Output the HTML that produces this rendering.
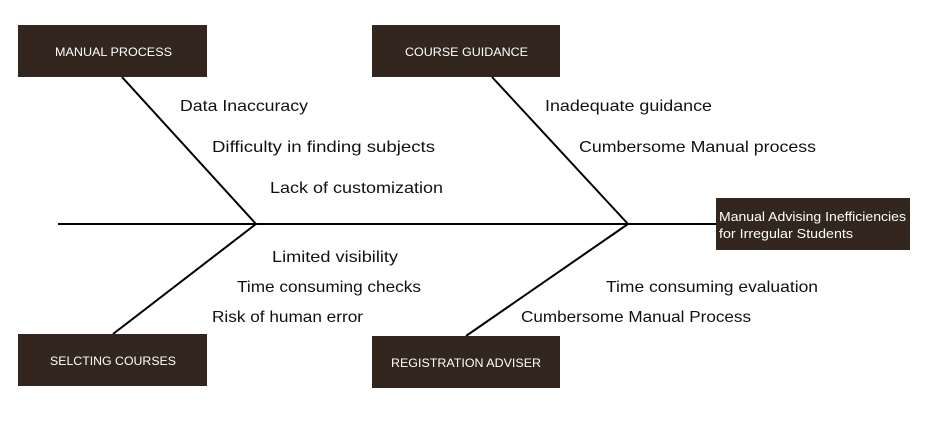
<!DOCTYPE html>
<html><head><style>
body{margin:0;background:#fff;}
svg{display:block;font-family:"Liberation Sans",sans-serif;}
.b{fill:#32261f;}
.t{font-size:16px;fill:#111;}
.w{font-size:12px;fill:#fff;}
.e{font-size:13px;fill:#fff;}
</style></head><body>
<svg width="925" height="437" viewBox="0 0 925 437">
<g stroke="#000" stroke-width="2" fill="none">
<line x1="58" y1="224" x2="716" y2="224"/>
<line x1="122" y1="77" x2="256" y2="224"/>
<line x1="492" y1="77" x2="628" y2="224"/>
<line x1="256" y1="224" x2="113" y2="334"/>
<line x1="628" y1="224" x2="466" y2="336"/>
</g>
<rect class="b" x="18" y="25" width="189" height="52"/>
<rect class="b" x="372" y="25" width="188" height="52"/>
<rect class="b" x="18" y="334" width="189" height="52"/>
<rect class="b" x="372" y="336" width="188" height="52"/>
<rect class="b" x="716" y="198" width="194" height="52"/>
<text class="w" x="55" y="56" textLength="117" lengthAdjust="spacingAndGlyphs">MANUAL PROCESS</text>
<text class="w" x="405" y="56" textLength="123" lengthAdjust="spacingAndGlyphs">COURSE GUIDANCE</text>
<text class="w" x="50" y="365" textLength="126" lengthAdjust="spacingAndGlyphs">SELCTING COURSES</text>
<text class="w" x="391" y="367" textLength="150" lengthAdjust="spacingAndGlyphs">REGISTRATION ADVISER</text>
<text class="e" x="719" y="221" textLength="187" lengthAdjust="spacingAndGlyphs">Manual Advising Inefficiencies</text>
<text class="e" x="719" y="238" textLength="134" lengthAdjust="spacingAndGlyphs">for Irregular Students</text>
<text class="t" x="180" y="111" textLength="128" lengthAdjust="spacingAndGlyphs">Data Inaccuracy</text>
<text class="t" x="212" y="152" textLength="223" lengthAdjust="spacingAndGlyphs">Difficulty in finding subjects</text>
<text class="t" x="270" y="193" textLength="173" lengthAdjust="spacingAndGlyphs">Lack of customization</text>
<text class="t" x="272" y="262" textLength="126" lengthAdjust="spacingAndGlyphs">Limited visibility</text>
<text class="t" x="237" y="292" textLength="184" lengthAdjust="spacingAndGlyphs">Time consuming checks</text>
<text class="t" x="212" y="322" textLength="151" lengthAdjust="spacingAndGlyphs">Risk of human error</text>
<text class="t" x="545" y="111" textLength="167" lengthAdjust="spacingAndGlyphs">Inadequate guidance</text>
<text class="t" x="579" y="152" textLength="237" lengthAdjust="spacingAndGlyphs">Cumbersome Manual process</text>
<text class="t" x="606" y="292" textLength="212" lengthAdjust="spacingAndGlyphs">Time consuming evaluation</text>
<text class="t" x="521" y="322" textLength="230" lengthAdjust="spacingAndGlyphs">Cumbersome Manual Process</text>
</svg>
</body></html>
